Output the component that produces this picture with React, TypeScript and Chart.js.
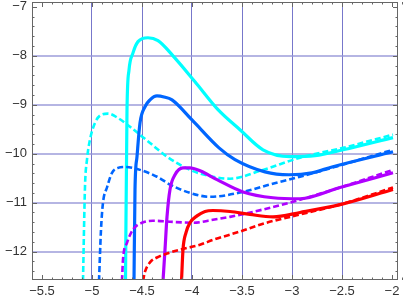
import React, { useEffect, useRef } from "react";
import { Chart, registerables } from "chart.js";

Chart.register(...registerables);

// x ticks / y ticks
const xTickValues = [-5.5, -5, -4.5, -4, -3.5, -3, -2.5, -2];
const yTickValues = [-12, -11, -10, -9, -8, -7];
const xGridValues = [-5, -4.5, -4, -3.5, -3, -2.5];
const yGridValues = [-12, -11, -10, -9, -8];

// cyan solid
const cyanSolidX = [-4.665, -4.65, -4.63, -4.59, -4.54, -4.44, -4.34, -4.19, -3.97, -3.74, -3.52, -3.29, -3.02, -2.77, -2.49, -1.99];
const cyanSolidY = [-12.6, -9.1, -8.29, -7.94, -7.71, -7.63, -7.69, -8.0, -8.53, -9.1, -9.51, -9.92, -10.06, -10.04, -9.92, -9.67];
// cyan dashed
const cyanDashX = [-5.09, -5.07, -5.05, -5.02, -4.97, -4.92, -4.84, -4.74, -4.62, -4.42, -4.25, -4.02, -3.79, -3.62, -3.29, -2.92, -2.49, -1.99];
const cyanDashY = [-12.6, -10.67, -10.12, -9.71, -9.37, -9.22, -9.18, -9.27, -9.45, -9.78, -10.06, -10.33, -10.47, -10.51, -10.33, -10.08, -9.88, -9.61];
// blue solid
const blueSolidX = [-4.58, -4.57, -4.55, -4.52, -4.47, -4.42, -4.35, -4.28, -4.2, -4.0, -3.73, -3.57, -3.27, -3.03, -2.8, -2.6, -1.99];
const blueSolidY = [-12.6, -10.73, -10.06, -9.37, -9.04, -8.9, -8.82, -8.84, -8.9, -9.31, -9.88, -10.12, -10.37, -10.43, -10.39, -10.27, -9.96];
// blue dashed
const blueDashX = [-4.93, -4.91, -4.89, -4.85, -4.8, -4.74, -4.67, -4.52, -4.35, -4.22, -4.02, -3.82, -3.49, -3.22, -2.92, -2.52, -1.99];
const blueDashY = [-12.6, -11.55, -11.0, -10.69, -10.39, -10.29, -10.27, -10.33, -10.47, -10.63, -10.8, -10.88, -10.78, -10.63, -10.47, -10.24, -9.92];
// purple solid
const purpleSolidX = [-4.29, -4.27, -4.25, -4.22, -4.17, -4.09, -4.02, -3.92, -3.75, -3.49, -3.19, -2.92, -2.52, -1.99];
const purpleSolidY = [-12.6, -11.96, -11.29, -10.73, -10.43, -10.29, -10.29, -10.35, -10.53, -10.78, -10.9, -10.92, -10.69, -10.39];
// purple dashed
const purpleDashX = [-4.7, -4.69, -4.65, -4.59, -4.5, -4.39, -4.22, -3.99, -3.79, -3.62, -3.29, -2.92, -2.52, -1.99];
const purpleDashY = [-12.6, -12.16, -11.82, -11.55, -11.41, -11.37, -11.39, -11.41, -11.35, -11.29, -11.14, -10.94, -10.69, -10.33];
// red solid
const redSolidX = [-4.105, -4.09, -4.06, -4.02, -3.95, -3.87, -3.79, -3.62, -3.42, -3.19, -2.92, -2.52, -1.99];
const redSolidY = [-12.6, -11.96, -11.61, -11.41, -11.27, -11.18, -11.16, -11.18, -11.24, -11.29, -11.2, -11.04, -10.73];
// red dashed
const redDashX = [-4.49, -4.47, -4.42, -4.35, -4.25, -4.12, -3.92, -3.79, -3.52, -3.29, -3.02, -2.92, -2.52, -1.99];
const redDashY = [-12.6, -12.41, -12.22, -12.12, -12.04, -11.96, -11.86, -11.76, -11.59, -11.43, -11.29, -11.24, -11.04, -10.69];

const X_MIN = -5.6;
const X_MAX = -1.94;
const Y_MIN = -12.58;
const Y_MAX = -6.9;

const pts = (xs: number[], ys: number[]) => xs.map((x, i) => ({ x, y: ys[i] }));

const fmt = (v: number) => (v < 0 ? "\u2212" + String(Math.abs(v)) : String(v));

const framePlugin = {
  id: "frame",
  afterDatasetsDraw(chart: any) {
    const { ctx, chartArea } = chart;
    const xs = chart.scales.x;
    const ys = chart.scales.y;
    const { left, right, top, bottom } = chartArea;
    ctx.save();
    ctx.strokeStyle = "#666";
    ctx.lineWidth = 1;
    ctx.strokeRect(left + 0.5, top + 0.5, right - left - 1, bottom - top - 1);
    ctx.beginPath();
    for (let i = -56; i <= -19; i++) {
      const v = i / 10;
      const px = Math.round(xs.getPixelForValue(v)) + 0.5;
      const major = Math.abs(v * 2 - Math.round(v * 2)) < 1e-6;
      const len = major ? 5 : 2.5;
      ctx.moveTo(px, bottom);
      ctx.lineTo(px, bottom - len);
      ctx.moveTo(px, top);
      ctx.lineTo(px, top + len);
    }
    for (let i = -63; i <= -34; i++) {
      const v = i / 5;
      const py = Math.round(ys.getPixelForValue(v)) + 0.5;
      if (py < top || py > bottom) continue;
      const major = Math.abs(v - Math.round(v)) < 1e-6;
      const len = major ? 5 : 2.5;
      ctx.moveTo(left, py);
      ctx.lineTo(left + len, py);
      ctx.moveTo(right, py);
      ctx.lineTo(right - len, py);
    }
    ctx.stroke();
    ctx.restore();
  },
};

export default function App() {
  const ref = useRef<HTMLCanvasElement | null>(null);
  useEffect(() => {
    if (!ref.current) return;
    const solid = (color: string, data: any) => ({
      data,
      borderColor: color,
      borderWidth: 3.2,
      pointRadius: 0,
      fill: false,
      cubicInterpolationMode: "monotone" as const,
    });
    const dashed = (color: string, data: any) => ({
      data,
      borderColor: color,
      borderWidth: 2.6,
      borderDash: [6, 3],
      pointRadius: 0,
      fill: false,
      cubicInterpolationMode: "monotone" as const,
    });
    const chart = new Chart(ref.current, {
      type: "line",
      data: {
        datasets: [
          solid("#ff0000", pts(redSolidX, redSolidY)),
          dashed("#ff0000", pts(redDashX, redDashY)),
          solid("#b000ff", pts(purpleSolidX, purpleSolidY)),
          dashed("#b000ff", pts(purpleDashX, purpleDashY)),
          solid("#0066ff", pts(blueSolidX, blueSolidY)),
          dashed("#0066ff", pts(blueDashX, blueDashY)),
          solid("#00ffff", pts(cyanSolidX, cyanSolidY)),
          dashed("#00ffff", pts(cyanDashX, cyanDashY)),
        ],
      },
      options: {
        animation: false,
        responsive: true,
        maintainAspectRatio: false,
        layout: { padding: { top: 2, right: 5, left: 0, bottom: 0 } },
        plugins: { legend: { display: false }, tooltip: { enabled: false } },
        scales: {
          x: {
            type: "linear",
            min: X_MIN,
            max: X_MAX,
            afterBuildTicks: (s: any) => {
              s.ticks = xTickValues.map((v) => ({ value: v }));
            },
            afterFit: (s: any) => {
              s.height = 20;
              s.paddingLeft = 0;
              s.paddingRight = 0;
            },
            border: { display: false },
            grid: {
              drawTicks: false,
              color: (c: any) =>
                c.tick && xGridValues.includes(c.tick.value) ? "rgba(85,85,190,0.8)" : "rgba(0,0,0,0)",
              lineWidth: 1,
            },
            ticks: {
              autoSkip: false,
              maxRotation: 0,
              padding: 4,
              color: "#333",
              font: { family: "'Liberation Sans', Arial, sans-serif", size: 13 },
              callback: (v: any) => fmt(Number(v)),
            },
          },
          y: {
            type: "linear",
            min: Y_MIN,
            max: Y_MAX,
            afterBuildTicks: (s: any) => {
              s.ticks = yTickValues.map((v) => ({ value: v }));
            },
            afterFit: (s: any) => {
              s.width = 32;
              s.paddingTop = 0;
              s.paddingBottom = 0;
            },
            border: { display: false },
            grid: {
              drawTicks: false,
              color: (c: any) =>
                c.tick && yGridValues.includes(c.tick.value) ? "rgba(150,150,215,0.7)" : "rgba(0,0,0,0)",
              lineWidth: 2,
            },
            ticks: {
              autoSkip: false,
              padding: 5,
              color: "#333",
              font: { family: "'Liberation Sans', Arial, sans-serif", size: 13 },
              callback: (v: any) => fmt(Number(v)),
            },
          },
        },
      },
      plugins: [framePlugin],
    });
    return () => chart.destroy();
  }, []);
  return (
    <div style={{ position: "absolute", left: 0, top: 0, width: 403, height: 300, background: "#fff" }}>
      <canvas ref={ref} />
    </div>
  );
}
